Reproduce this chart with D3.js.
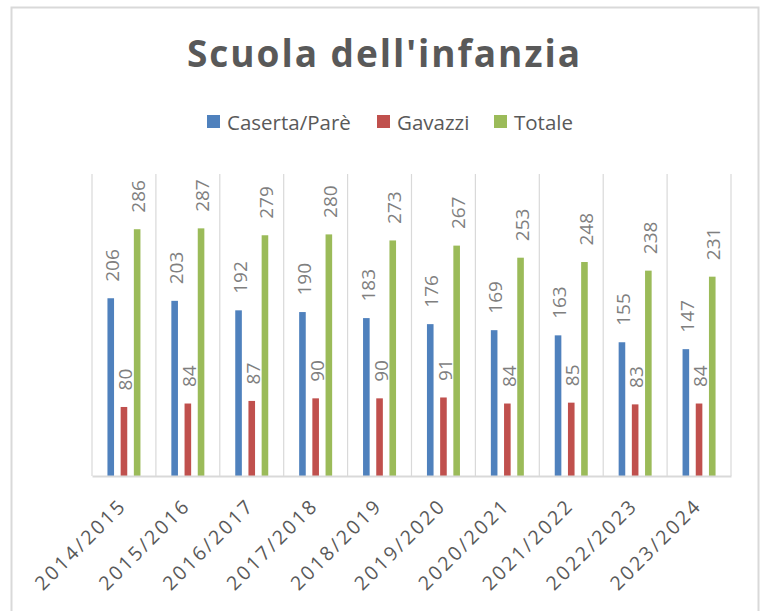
<!DOCTYPE html>
<html>
<head>
<meta charset="utf-8">
<script src="https://cdn.jsdelivr.net/npm/d3@7"></script>
<style>
  body { margin:0; background:#fff; }
  text { font-family: "Open Sans", "Noto Sans", sans-serif; }
</style>
</head>
<body>
<div id="chart"></div>
<script>
var years = ["2014/2015","2015/2016","2016/2017","2017/2018","2018/2019","2019/2020","2020/2021","2021/2022","2022/2023","2023/2024"];
var seriesNames = ["Caserta/Parè","Gavazzi","Totale"];
var caserta = [206,203,192,190,183,176,169,163,155,147];
var gavazzi = [80,84,87,90,90,91,84,85,83,84];
var totale = [286,287,279,280,273,267,253,248,238,231];
var colors = ["#4f81bd","#c0504d","#9bbb59"];

var width = 764;
var height = 611;
var margin = {top:174,bottom:135,left:92,right:33};

var svg = d3.select("#chart").append("svg")
	.attr("width",width)
	.attr("height",height);

// frame
svg.append("rect")
	.attr("x",11.5).attr("y",7.5)
	.attr("width",747).attr("height",640)
	.attr("fill","#fff")
	.attr("stroke","#d9d9d9")
	.attr("stroke-width",2);

svg.append("text")
	.attr("x",383.5).attr("y",67)
	.attr("text-anchor","middle")
	.attr("font-size",37)
	.attr("font-weight","bold")
	.attr("fill","#595959")
	.attr("textLength",393)
	.attr("lengthAdjust","spacing")
	.text("Scuola dell'infanzia");

var data = years.map((y,i) => ({year:y, values:[caserta[i],gavazzi[i],totale[i]]}));

var x0 = d3.scaleBand()
	.domain(years)
	.range([margin.left,width-margin.right]);

var x1 = d3.scaleBand()
	.domain(seriesNames)
	.range([-19.8,19.8])
	.paddingInner(0.5)
	.paddingOuter(0.25);

var y = d3.scaleLinear()
	.domain([0,350])
	.range([height-margin.bottom,margin.top]);

// vertical gridlines at category boundaries
var edges = years.map(d => x0(d)).concat([x0.range()[1]]);
svg.append("g").selectAll("line").data(edges)
	.enter().append("line")
	.attr("x1",d=>d).attr("x2",d=>d)
	.attr("y1",y(350)).attr("y2",y(0))
	.attr("stroke","#d9d9d9")
	.attr("stroke-width",1.2);

var groups = svg.append("g").selectAll("g").data(data)
	.enter().append("g")
	.attr("transform",d=>"translate("+(x0(d.year)+x0.bandwidth()/2)+",0)");

groups.selectAll("rect").data(d=>d.values.map((v,i)=>({name:seriesNames[i],v:v,c:colors[i]})))
	.enter().append("rect")
	.attr("x",d=>x1(d.name))
	.attr("y",d=>y(d.v))
	.attr("width",x1.bandwidth())
	.attr("height",d=>y(0)-y(d.v))
	.attr("fill",d=>d.c);

groups.selectAll("text").data(d=>d.values.map((v,i)=>({name:seriesNames[i],v:v})))
	.enter().append("text")
	.attr("transform",d=>"translate("+(x1(d.name)+x1.bandwidth()/2+1.5)+","+(y(d.v)-16.5)+") rotate(-90)")
	.attr("dy","0.35em")
	.attr("font-size",19)
	.attr("fill","#7f7f7f")
	.text(d=>d.v);

var xaxis = d3.axisBottom(x0).tickSize(0).tickSizeOuter(0);
var ax = svg.append("g")
	.attr("transform","translate(0,"+y(0)+")")
	.call(xaxis);
ax.select(".domain").attr("stroke","#d9d9d9").attr("stroke-width",2);
ax.selectAll("text")
	.attr("x",0).attr("y",0).attr("dy","0.35em")
	.attr("text-anchor","end")
	.attr("transform","translate(-1,26) rotate(-45)")
	.attr("font-size",19.5)
	.attr("letter-spacing",2.6)
	.attr("fill","#595959")
	.style("font-family","'Open Sans', sans-serif");

// legend
var legendX = [207,377,494];
var legend = svg.append("g").selectAll("g").data(seriesNames)
	.enter().append("g")
	.attr("transform",(d,i)=>"translate("+legendX[i]+",115)");
legend.append("rect")
	.attr("width",13).attr("height",13)
	.attr("fill",(d,i)=>colors[i]);
legend.append("text")
	.attr("x",20).attr("y",14.5)
	.attr("font-size",20.5)
	.attr("fill","#595959")
	.text(d=>d);
</script>
</body>
</html>
